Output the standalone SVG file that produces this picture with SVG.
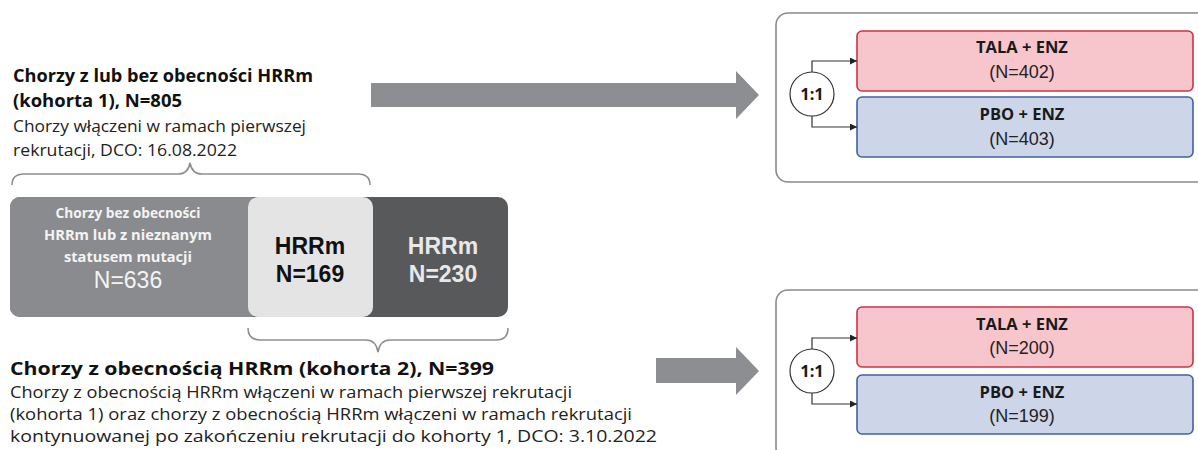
<svg xmlns="http://www.w3.org/2000/svg" width="1198" height="450" viewBox="0 0 1198 450">
<defs>
<style>
.hd{font-family:"Open Sans","Noto Sans",sans-serif;font-weight:700;font-size:18px;fill:#111}
.bd{font-family:"Open Sans","Noto Sans",sans-serif;font-size:16px;fill:#222}
.bar{font-family:"Open Sans","Noto Sans",sans-serif;font-weight:700;font-size:14.5px;fill:#f4f4f4;text-anchor:middle}
.big{font-family:"Liberation Sans",Arial,sans-serif;font-weight:700;font-size:23px;text-anchor:middle}
.arm{font-family:"Open Sans","Noto Sans",sans-serif;font-weight:700;font-size:16.5px;fill:#1a1a1a;text-anchor:middle}
.n{font-family:"Liberation Sans",Arial,sans-serif;font-size:18px;fill:#222;text-anchor:middle}
.frame{fill:#fff;stroke:#8a8a8a;stroke-width:1.6}
.red{fill:#f7c6cd;stroke:#cc3443;stroke-width:1.6}
.blue{fill:#cdd6e8;stroke:#3f62a3;stroke-width:1.6}
.ratio{fill:#fff;stroke:#333;stroke-width:1.2}
.conn{fill:none;stroke:#333;stroke-width:1.2}
.brace{fill:none;stroke:#8e8e8e;stroke-width:1.6}
.bigarrow{fill:#8c8e91}
</style>
<marker id="ah" viewBox="0 0 10 10" refX="10" refY="5" markerWidth="7" markerHeight="7" markerUnits="userSpaceOnUse" orient="auto">
<path d="M0,0 L10,5 L0,10 Z" fill="#222"/>
</marker>
</defs>

<g id="cohort1-text">
<text class="hd" x="13" y="82" textLength="300" lengthAdjust="spacingAndGlyphs">Chorzy z lub bez obecności HRRm</text>
<text class="hd" x="13" y="107" textLength="169" lengthAdjust="spacingAndGlyphs">(kohorta 1), N=805</text>
<text class="bd" x="13" y="132" textLength="293" lengthAdjust="spacingAndGlyphs">Chorzy włączeni w ramach pierwszej</text>
<text class="bd" x="13" y="156" textLength="224" lengthAdjust="spacingAndGlyphs">rekrutacji, DCO: 16.08.2022</text>
</g>

<g id="brace-top">
<path class="brace" d="M12,185 Q12,174 24,174 L178,174 Q188,174 190,163 Q192,174 202,174 L358,174 Q370,174 370,185"/>
</g>

<g id="bar">
<rect x="10" y="197" width="498" height="120" rx="10" fill="#58595b"/>
<rect x="10" y="197" width="250" height="120" rx="10" fill="#8a8b8e"/>
<rect x="248" y="197" width="125" height="120" rx="10" fill="#e4e4e5"/>
<text class="bar" x="128" y="218" textLength="145" lengthAdjust="spacingAndGlyphs">Chorzy bez obecności</text>
<text class="bar" x="128" y="240" textLength="168" lengthAdjust="spacingAndGlyphs">HRRm lub z nieznanym</text>
<text class="bar" x="128" y="262" textLength="128" lengthAdjust="spacingAndGlyphs">statusem mutacji</text>
<text x="128" y="288" font-family="Liberation Sans, Arial, sans-serif" font-size="23" fill="#f4f4f4" text-anchor="middle">N=636</text>
<text class="big" x="310" y="254" fill="#111">HRRm</text>
<text class="big" x="310" y="282" fill="#111">N=169</text>
<text class="big" x="443" y="254" fill="#e8e8e8">HRRm</text>
<text class="big" x="443" y="282" fill="#e8e8e8">N=230</text>
</g>

<g id="brace-bottom">
<path class="brace" d="M248,328 Q248,340 260,340 L366,340 Q376,340 378,352 Q380,340 390,340 L496,340 Q508,340 508,328"/>
</g>

<g id="cohort2-text">
<text class="hd" x="10" y="375" textLength="484" lengthAdjust="spacingAndGlyphs">Chorzy z obecnością HRRm (kohorta 2), N=399</text>
<text class="bd" x="10" y="398" textLength="562" lengthAdjust="spacingAndGlyphs">Chorzy z obecnością HRRm włączeni w ramach pierwszej rekrutacji</text>
<text class="bd" x="10" y="420" textLength="622" lengthAdjust="spacingAndGlyphs">(kohorta 1) oraz chorzy z obecnością HRRm włączeni w ramach rekrutacji</text>
<text class="bd" x="10" y="442" textLength="647" lengthAdjust="spacingAndGlyphs">kontynuowanej po zakończeniu rekrutacji do kohorty 1, DCO: 3.10.2022</text>
</g>

<g id="arrow-top">
<path class="bigarrow" d="M371,83 L736,83 L736,71 L759,95 L736,119 L736,107 L371,107 Z"/>
</g>
<g id="arrow-bottom">
<path class="bigarrow" d="M656,358 L736,358 L736,347 L759,371 L736,395 L736,383 L656,383 Z"/>
</g>

<g id="group-top">
<rect class="frame" x="776" y="13" width="440" height="169" rx="12"/>
</g>
<g id="tala-top">
<rect class="red" x="857" y="31" width="336" height="60" rx="5"/>
<text class="arm" x="1022" y="53">TALA + ENZ</text>
<text class="n" x="1022" y="78">(N=402)</text>
</g>
<g id="pbo-top">
<rect class="blue" x="857" y="97" width="336" height="60" rx="5"/>
<text class="arm" x="1022" y="120">PBO + ENZ</text>
<text class="n" x="1022" y="145">(N=403)</text>
</g>
<g id="ratio-top">
<circle class="ratio" cx="812" cy="94" r="22"/>
<text class="arm" x="812" y="100" font-size="15">1:1</text>
</g>

<g id="group-bottom">
<rect class="frame" x="776" y="290" width="440" height="170" rx="12"/>
</g>
<g id="tala-bottom">
<rect class="red" x="857" y="307" width="336" height="60" rx="5"/>
<text class="arm" x="1022" y="330">TALA + ENZ</text>
<text class="n" x="1022" y="354">(N=200)</text>
</g>
<g id="pbo-bottom">
<rect class="blue" x="857" y="375" width="336" height="59" rx="5"/>
<text class="arm" x="1022" y="398">PBO + ENZ</text>
<text class="n" x="1022" y="422">(N=199)</text>
</g>
<g id="ratio-bottom">
<circle class="ratio" cx="812" cy="371" r="22"/>
<text class="arm" x="812" y="377" font-size="15">1:1</text>
</g>

<g id="connectors">
<path class="conn" d="M812,72 L812,61 L857,61" marker-end="url(#ah)"/>
<path class="conn" d="M812,116 L812,127 L857,127" marker-end="url(#ah)"/>
<path class="conn" d="M812,349 L812,338 L857,338" marker-end="url(#ah)"/>
<path class="conn" d="M812,393 L812,404 L857,404" marker-end="url(#ah)"/>
</g>
</svg>
